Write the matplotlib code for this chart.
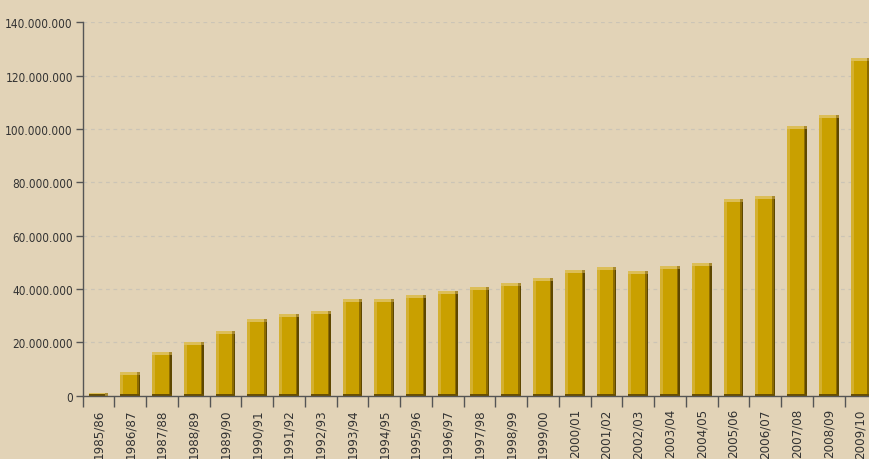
import matplotlib.pyplot as plt
import matplotlib.ticker as mticker
import numpy as np

seasons = ['1985/86', '1986/87', '1987/88', '1988/89', '1989/90', '1990/91',
           '1991/92', '1992/93', '1993/94', '1994/95', '1995/96', '1996/97',
           '1997/98', '1998/99', '1999/00', '2000/01', '2001/02', '2002/03',
           '2003/04', '2004/05', '2005/06', '2006/07', '2007/08', '2008/09',
           '2009/10']
# values in millions
values_m = [0.9, 8.8, 16.3, 20.1, 24.1, 28.8, 30.5, 31.6, 36.3, 36.2, 37.9,
            39.1, 40.9, 42.1, 44.1, 47.0, 48.4, 46.6, 48.7, 49.7, 73.6, 74.8,
            101.0, 105.2, 126.5]
values = np.array(values_m) * 1e6
y_ticks = [0, 20e6, 40e6, 60e6, 80e6, 100e6, 120e6, 140e6]

bg = '#e2d3b7'
gold = '#c9a000'

fig = plt.figure(figsize=(8.7, 4.6), dpi=100, facecolor=bg)
ax = fig.add_axes([0.0949, 0.1376, 0.9124, 0.8117], facecolor=bg)

x = np.arange(len(seasons))
w = 0.62
px = 1 / 31.75  # one pixel in category units
cap = 1.1e6     # ~3 px in data units

# main body
ax.bar(x, values, width=w, color=gold, zorder=3)
# lighter left edge
ax.bar(x - w / 2, values, width=3 * px, align='edge', color='#d4b030', zorder=4)
# dark right edge
ax.bar(x + w / 2 - 3 * px, values, width=1.5 * px, align='edge', color='#8c6b00', zorder=4)
ax.bar(x + w / 2 - 1.5 * px, values, width=1.5 * px, align='edge', color='#5e4700', zorder=4)
# light top cap
ax.bar(x, np.full(len(x), cap), bottom=values - cap, width=w, color='#dcbe58', zorder=5)
ax.bar(x + w / 2 - 3 * px, np.full(len(x), cap), bottom=values - cap, width=3 * px,
       align='edge', color='#a88a30', zorder=6)
# dark base line
ax.bar(x, np.full(len(x), 0.6e6), width=w, color='#6a5000', zorder=5)

ax.set_xlim(-0.5, len(seasons) - 0.5)
ax.set_ylim(0, 140e6)

ax.yaxis.set_major_locator(mticker.FixedLocator(y_ticks))
ax.yaxis.set_major_formatter(mticker.FuncFormatter(lambda v, p: f'{int(v):,}'.replace(',', '.')))
ax.grid(axis='y', color='#cbc4b6', linestyle=(0, (3, 3)), linewidth=0.9, zorder=1)

ax.set_xticks(x)
ax.set_xticklabels(seasons, rotation=90, fontsize=9.5, family='DejaVu Sans',
                   fontstretch='condensed', color='#333333')
ax.set_xticks(np.arange(len(seasons)) - 0.5, minor=True)
ax.tick_params(axis='x', which='major', length=0, pad=9)
ax.tick_params(axis='x', which='minor', length=8, width=1, color='#555555')
ax.tick_params(axis='y', length=5, width=1, color='#555555', pad=2)
for lbl in ax.get_yticklabels():
    lbl.set_family('DejaVu Sans')
    lbl.set_stretch('condensed')
    lbl.set_fontsize(8.5)
    lbl.set_color('#333333')

for s in ['top', 'right']:
    ax.spines[s].set_visible(False)
for s in ['left', 'bottom']:
    ax.spines[s].set_color('#555555')
    ax.spines[s].set_linewidth(1)
    ax.spines[s].set_zorder(7)

fig.savefig('out.png', dpi=100, facecolor=bg)
